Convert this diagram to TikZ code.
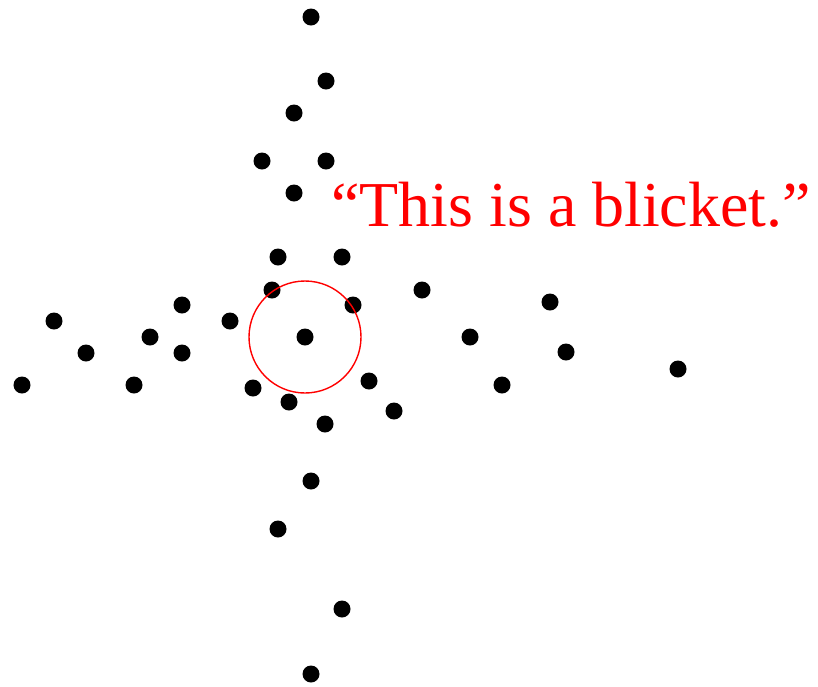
\documentclass[tikz,border=0pt]{standalone}
\usepackage{fontspec}
\setmainfont{Liberation Serif}
\usetikzlibrary{positioning}
\definecolor{Mark}{HTML}{FF0000}
\tikzset{
  pt/.style={circle,fill=black,inner sep=0pt,minimum size=.51cm},
  ring/.style={circle,draw=Mark,line width=1.2pt,inner sep=0pt,minimum size=3.36cm},
  word/.style={text=Mark,font=\fontsize{54.6}{60}\selectfont,inner sep=0pt},
}
\begin{document}
\begin{tikzpicture}[x=.03cm,y=-.03cm]
    \useasboundingbox (0,0) rectangle (818,686);
    % scattered objects
    \foreach \x/\y [count=\i] in {311/17,326/81,294/113,262/161,326/161,294/193,
        278/257,342/257,272/290,353/305,422/290,550/302,182/305,54/321,150/337,
        230/321,182/353,86/353,22/385,134/385,470/337,566/352,678/369,253/388,
        289/402,369/381,394/411,325/424,502/385,311/481,278/529,342/609,311/674}
      \node[pt] (p\i) at (\x,\y) {};
    % the named one
    \node[pt] (target) at (305,337) {};
    \node[ring] (ring) at (target) {};
    \node[word,anchor=base west] (utter) at (331,226) {``This is a blicket.''};
\end{tikzpicture}
\end{document}
